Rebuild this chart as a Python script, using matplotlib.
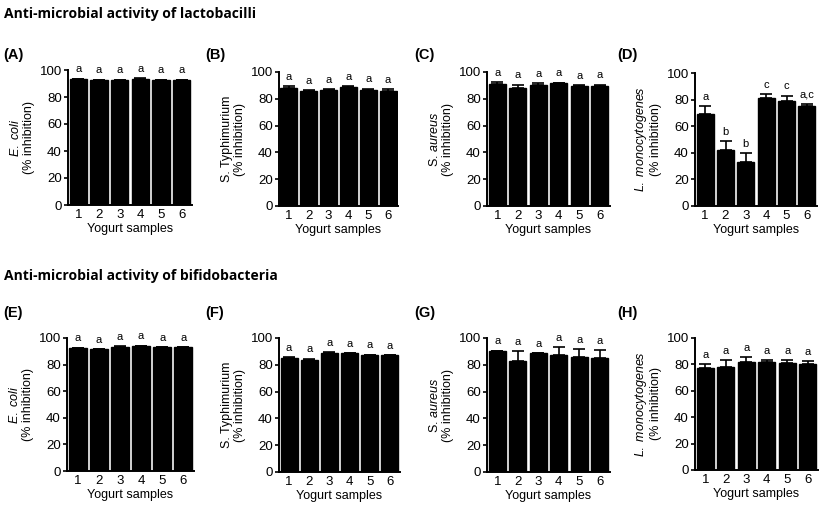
import numpy as np
import matplotlib
matplotlib.use("Agg")
import matplotlib.pyplot as plt

plt.rcParams['font.family'] = ['Liberation Sans', 'DejaVu Sans']
plt.rcParams['mathtext.fontset'] = 'custom'
plt.rcParams['mathtext.rm'] = 'Liberation Sans'
plt.rcParams['mathtext.it'] = 'Liberation Sans:italic'

# ---- data ----
samples = [1, 2, 3, 4, 5, 6]

lacto_ecoli = [93, 92.5, 92.5, 93.5, 92.5, 92.5]
lacto_ecoli_err = [0.5, 0.3, 0.3, 0.6, 0.3, 0.3]
lacto_ecoli_lab = ['a', 'a', 'a', 'a', 'a', 'a']

lacto_styph = [88, 86, 86.5, 88.5, 86.5, 86]
lacto_styph_err = [1.5, 0.5, 0.5, 1.0, 1.0, 1.2]
lacto_styph_lab = ['a', 'a', 'a', 'a', 'a', 'a']

lacto_saur = [91, 88, 90, 91.5, 89.5, 89.5]
lacto_saur_err = [1.2, 2.5, 1.5, 0.5, 0.5, 1.0]
lacto_saur_lab = ['a', 'a', 'a', 'a', 'a', 'a']

lacto_lmono = [69, 42, 33, 81, 79, 75.5]
lacto_lmono_err = [6, 6.5, 6.5, 3, 4, 1.5]
lacto_lmono_lab = ['a', 'b', 'b', 'c', 'c', 'a,c']

bifido_ecoli = [92.5, 91.5, 93.5, 94, 93, 93]
bifido_ecoli_err = [0.3, 0.3, 0.3, 0.3, 0.3, 0.3]
bifido_ecoli_lab = ['a', 'a', 'a', 'a', 'a', 'a']

bifido_styph = [85, 83.5, 89, 88.5, 87, 87]
bifido_styph_err = [0.5, 1.0, 0.5, 0.3, 0.5, 0.3]
bifido_styph_lab = ['a', 'a', 'a', 'a', 'a', 'a']

bifido_saur = [90, 83, 88.5, 87.5, 86, 85]
bifido_saur_err = [0.5, 7, 0.3, 5.5, 5.5, 6]
bifido_saur_lab = ['a', 'a', 'a', 'a', 'a', 'a']

bifido_lmono = [77, 78, 82, 81.5, 81, 80.5]
bifido_lmono_err = [3.5, 5, 3.5, 2, 2.5, 2]
bifido_lmono_lab = ['a', 'a', 'a', 'a', 'a', 'a']

ylab_ecoli = "$\\mathit{E.\\ coli}$\n(% inhibition)"
ylab_styph = "S. Typhimurium\n(% inhibition)"
ylab_saur = "S. $\\mathit{aureus}$\n(% inhibition)"
ylab_lmono = "$\\mathit{L.\\ monocytogenes}$\n(% inhibition)"

W, H = 827, 513
fig = plt.figure(figsize=(W / 100, H / 100), dpi=100)


def px_axes(x0, x1, ytop, ybot):
    return fig.add_axes([x0 / W, 1 - ybot / H, (x1 - x0) / W, (ybot - ytop) / H])


def bar_panel(ax, vals, errs, labs, ylabel):
    ax.bar(samples, vals, width=0.85, color='black', edgecolor='black', zorder=2)
    ax.errorbar(samples, vals, yerr=[np.zeros(6), errs], fmt='none', ecolor='black',
                elinewidth=1.2, capsize=4, capthick=1.2, zorder=3)
    for x, v, e, l in zip(samples, vals, errs, labs):
        ax.text(x, v + e + 7, l, ha='center', va='center', fontsize=8)
    ax.set_xlim(0.5, 6.5)
    ax.set_ylim(0, 100)
    ax.set_yticks([0, 20, 40, 60, 80, 100])
    ax.set_xticks(samples)
    ax.spines['top'].set_visible(False)
    ax.spines['right'].set_visible(False)
    ax.spines['left'].set_linewidth(1.4)
    ax.spines['bottom'].set_linewidth(1.4)
    ax.tick_params(axis='both', labelsize=9.5, width=1.2, length=3, pad=1.5)
    ax.tick_params(axis='x', length=0, pad=3)
    ax.set_xlabel("Yogurt samples", fontsize=9, labelpad=1)
    ax.set_ylabel(ylabel, fontsize=9, labelpad=3, linespacing=1.1)


top_row = [
    (68, 192, 70, 205, lacto_ecoli, lacto_ecoli_err, lacto_ecoli_lab, ylab_ecoli),
    (279, 398, 72, 206, lacto_styph, lacto_styph_err, lacto_styph_lab, ylab_styph),
    (487, 610, 72, 206, lacto_saur, lacto_saur_err, lacto_saur_lab, ylab_saur),
    (695, 817, 73, 206, lacto_lmono, lacto_lmono_err, lacto_lmono_lab, ylab_lmono),
]
bottom_row = [
    (67, 194, 338, 471, bifido_ecoli, bifido_ecoli_err, bifido_ecoli_lab, ylab_ecoli),
    (279, 400, 338, 472, bifido_styph, bifido_styph_err, bifido_styph_lab, ylab_styph),
    (487, 610, 338, 472, bifido_saur, bifido_saur_err, bifido_saur_lab, ylab_saur),
    (695, 818, 338, 470, bifido_lmono, bifido_lmono_err, bifido_lmono_lab, ylab_lmono),
]

for x0, x1, yt, yb, v, e, l, yl in top_row + bottom_row:
    ax = px_axes(x0, x1, yt, yb)
    bar_panel(ax, v, e, l, yl)

# titles and panel letters
fig.text(4 / W, 1 - 14 / H, "Anti-microbial activity of lactobacilli", fontsize=10,
         fontweight='bold', family=['Open Sans', 'DejaVu Sans'], va='center')
fig.text(4 / W, 1 - 276 / H, "Anti-microbial activity of bifidobacteria", fontsize=10,
         fontweight='bold', family=['Open Sans', 'DejaVu Sans'], va='center')

letters_top = [("(A)", 3), ("(B)", 205), ("(C)", 414), ("(D)", 617)]
letters_bot = [("(E)", 3), ("(F)", 205), ("(G)", 414), ("(H)", 617)]
for t, x in letters_top:
    fig.text(x / W, 1 - 55 / H, t, fontsize=10.5, fontweight='bold', va='center')
for t, x in letters_bot:
    fig.text(x / W, 1 - 313 / H, t, fontsize=10.5, fontweight='bold', va='center')

fig.savefig("out.png", dpi=100)
